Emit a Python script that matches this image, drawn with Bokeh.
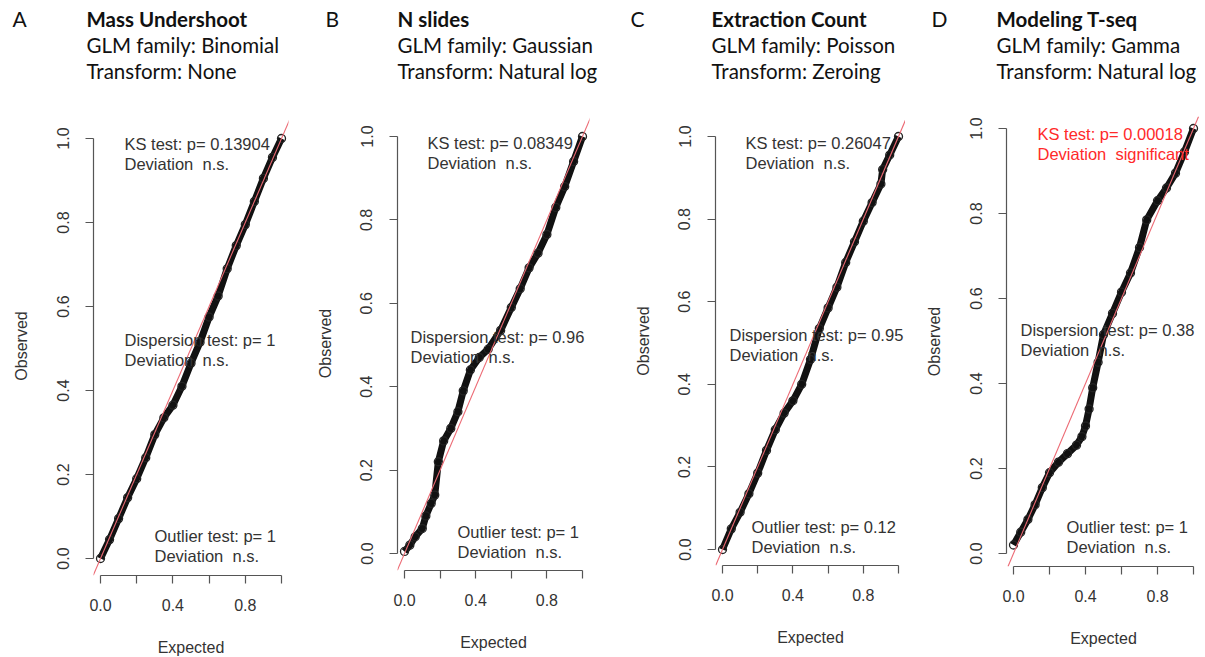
from bokeh.plotting import figure
from bokeh.models import Range1d, FixedTicker, Label, Slope
from bokeh.layouts import row, column
from bokeh.embed import file_html
from bokeh.resources import INLINE

# ---------------- data ----------------
a_expected = [0.00, 0.05, 0.10, 0.15, 0.20, 0.25, 0.30, 0.35, 0.40, 0.45, 0.50,
              0.55, 0.60, 0.65, 0.70, 0.75, 0.80, 0.85, 0.90, 0.95, 1.00]
a_observed = [0.00, 0.045, 0.095, 0.145, 0.19, 0.24, 0.295, 0.335, 0.365, 0.41, 0.465,
              0.515, 0.575, 0.625, 0.69, 0.745, 0.795, 0.85, 0.905, 0.955, 1.00]

b_expected = [0.00, 0.03, 0.06, 0.10, 0.12, 0.15, 0.17, 0.19, 0.22, 0.26, 0.30, 0.33,
              0.37, 0.42, 0.47, 0.54, 0.60, 0.65, 0.70, 0.75, 0.80, 0.85, 0.90, 0.95, 1.00]
b_observed = [0.005, 0.02, 0.04, 0.06, 0.09, 0.12, 0.14, 0.22, 0.27, 0.30, 0.34, 0.39,
              0.44, 0.47, 0.49, 0.535, 0.59, 0.635, 0.685, 0.72, 0.765, 0.83, 0.88, 0.94, 1.00]

c_expected = [0.00, 0.05, 0.10, 0.15, 0.20, 0.25, 0.30, 0.35, 0.40, 0.45, 0.50,
              0.55, 0.60, 0.65, 0.70, 0.75, 0.80, 0.85, 0.90, 0.91, 0.95, 1.00]
c_observed = [0.00, 0.05, 0.09, 0.135, 0.185, 0.24, 0.29, 0.33, 0.36, 0.40, 0.46,
              0.535, 0.585, 0.635, 0.695, 0.745, 0.795, 0.84, 0.885, 0.92, 0.955, 1.00]

d_expected = [0.00, 0.04, 0.08, 0.12, 0.16, 0.20, 0.25, 0.30, 0.35, 0.38, 0.40, 0.42,
              0.44, 0.47, 0.50, 0.55, 0.60, 0.65, 0.70, 0.74, 0.80, 0.85, 0.90, 0.95, 1.00]
d_observed = [0.02, 0.05, 0.08, 0.115, 0.155, 0.19, 0.215, 0.235, 0.255, 0.275, 0.30, 0.34,
              0.39, 0.45, 0.515, 0.565, 0.615, 0.66, 0.72, 0.785, 0.83, 0.86, 0.895, 0.945, 1.00]

tick_values = [0.0, 0.2, 0.4, 0.6, 0.8, 1.0]
y_tick_labels = ["0.0", "0.2", "0.4", "0.6", "0.8", "1.0"]
x_tick_labels = ["0.0", "", "0.4", "", "0.8", ""]

panel_letters = ["A", "B", "C", "D"]
panel_titles = ["Mass Undershoot", "N slides", "Extraction Count", "Modeling T-seq"]
glm_families = ["Binomial", "Gaussian", "Poisson", "Gamma"]
transforms = ["None", "Natural log", "Zeroing", "Natural log"]
ks_p = ["0.13904", "0.08349", "0.26047", "0.00018"]
ks_deviation = ["n.s.", "n.s.", "n.s.", "significant"]
dispersion_p = ["1", "0.96", "0.95", "0.38"]
dispersion_deviation = ["n.s.", "n.s.", "n.s.", "n.s."]
outlier_p = ["1", "1", "0.12", "1"]
outlier_deviation = ["n.s.", "n.s.", "n.s.", "n.s."]

series = [(a_expected, a_observed), (b_expected, b_observed),
          (c_expected, c_observed), (d_expected, d_observed)]

# ---------------- layout (page pixels) ----------------
PAGE_W = 1205
HEAD = 100
TOP = 116          # common frame top (page px)
# ox: figure left; fl/fr: frame left/right; fb: frame bottom;
# x0/x1: px of expected 0 and 1; y0/y1: px of observed 0 and 1
geoms = [
    dict(ox=0,   w=300, fl=93,   fr=288,  fb=575, x0=100,  x1=281,  y0=558, y1=138),
    dict(ox=300, w=300, fl=397,  fr=589,  fb=570, x0=404,  x1=582,  y0=553, y1=136),
    dict(ox=600, w=305, fl=715,  fr=905,  fb=565, x0=722,  x1=898,  y0=549, y1=136),
    dict(ox=905, w=300, fl=1006, fr=1200, fb=566, x0=1013, x1=1193, y0=553, y1=128),
]
stat_pos = [
    [(124, 143), (124, 339), (154, 535)],
    [(427, 142), (410, 336), (457, 531)],
    [(745, 142), (729, 334), (751, 526)],
    [(1037, 133), (1020, 329), (1066, 526)],
]
letter_x = [12, 325, 630, 931]
title_x = [86, 397, 711, 996]
title_y = [18, 44, 70]

PLOT_FONT = "Liberation Sans"
TITLE_FONT = "Lato"
TXT = "#333333"
AX = "#555555"
NBSP = "\u00a0"


def px2data(g, px, py):
    return ((px - g["x0"]) / (g["x1"] - g["x0"]),
            (g["y0"] - py) / (g["y0"] - g["y1"]))


# ---- heading strip across the page (pixel coordinates) ----
h = figure(frame_width=PAGE_W, frame_height=HEAD, min_border=0,
           x_range=Range1d(0, PAGE_W), y_range=Range1d(HEAD, 0),
           x_axis_location=None, y_axis_location=None,
           output_backend="svg", toolbar_location=None)
h.outline_line_color = None
h.grid.visible = False
for i in range(4):
    h.add_layout(Label(x=letter_x[i], y=title_y[0], text=panel_letters[i],
                       text_font=TITLE_FONT, text_font_size="21px", text_color="#111111",
                       text_align="left", text_baseline="middle"))
    heads = [(panel_titles[i], "bold"), ("GLM family: " + glm_families[i], "normal"),
             ("Transform: " + transforms[i], "normal")]
    for (t, st), ty in zip(heads, title_y):
        h.add_layout(Label(x=title_x[i], y=ty, text=t, text_font=TITLE_FONT,
                           text_font_size="20.5px", text_font_style=st,
                           text_color="#111111", text_align="left",
                           text_baseline="middle"))

plots = []
for i, g in enumerate(geoms):
    xs, _ = px2data(g, g["fl"], 0)
    xe, _ = px2data(g, g["fr"], 0)
    _, ys = px2data(g, 0, g["fb"])
    _, ye = px2data(g, 0, TOP)
    fw = g["fr"] - g["fl"]
    fh = g["fb"] - TOP
    bl = g["fl"] - g["ox"]
    br = g["w"] - bl - fw
    p = figure(frame_width=fw, frame_height=fh,
               min_border_left=bl, min_border_right=br,
               min_border_top=TOP - HEAD, min_border_bottom=657 - g["fb"],
               x_range=Range1d(xs, xe), y_range=Range1d(ys, ye),
               output_backend="svg", toolbar_location=None)
    p.outline_line_color = None
    p.grid.visible = False

    for ax, labels, name in ((p.xaxis[0], x_tick_labels, "Expected"),
                             (p.yaxis[0], y_tick_labels, "Observed")):
        ax.ticker = FixedTicker(ticks=tick_values, minor_ticks=[])
        ax.major_label_overrides = {v: l for v, l in zip(tick_values, labels)}
        ax.bounds = (0, 1)
        ax.axis_line_color = AX
        ax.major_tick_line_color = AX
        ax.axis_line_width = 1.2
        ax.major_tick_line_width = 1.2
        ax.major_tick_out = 8
        ax.major_tick_in = 0
        ax.minor_tick_line_color = None
        ax.major_label_text_font = PLOT_FONT
        ax.major_label_text_font_size = "16px"
        ax.major_label_text_color = TXT
        ax.axis_label = name
        ax.axis_label_text_font = PLOT_FONT
        ax.axis_label_text_font_size = "16px"
        ax.axis_label_text_font_style = "normal"
        ax.axis_label_text_color = TXT
    p.xaxis.major_label_standoff = 15
    p.xaxis.axis_label_standoff = 25
    p.yaxis.major_label_standoff = 17
    p.yaxis.axis_label_standoff = 24
    p.yaxis.major_label_orientation = "parallel"

    ex, ob = series[i]
    p.line(ex, ob, line_width=7, line_color="#111111")
    p.scatter(ex, ob, marker="circle", size=8, fill_color=None,
              line_color="#222222", line_width=1.3)
    p.add_layout(Slope(gradient=1, y_intercept=0, line_color="#ec6a74", line_width=1.1))

    texts = [
        ("KS test: p= " + ks_p[i], "Deviation " + NBSP + ks_deviation[i]),
        ("Dispersion test: p= " + dispersion_p[i], "Deviation " + NBSP + dispersion_deviation[i]),
        ("Outlier test: p= " + outlier_p[i], "Deviation " + NBSP + outlier_deviation[i]),
    ]
    for k, (t1, t2) in enumerate(texts):
        col = "#ff2a2a" if (k == 0 and ks_deviation[i] == "significant") else TXT
        px, py = stat_pos[i][k]
        x, y = px2data(g, px, py)
        for t, off in ((t1, 0), (t2, -20)):
            p.add_layout(Label(x=x, y=y, y_offset=off, text=t, text_font=PLOT_FONT,
                               text_font_size="16.5px", text_color=col,
                               text_align="left", text_baseline="middle"))
    plots.append(p)

layout = column(h, row(*plots, spacing=0), spacing=0)
open("out.html", "w").write(file_html(layout, INLINE))
